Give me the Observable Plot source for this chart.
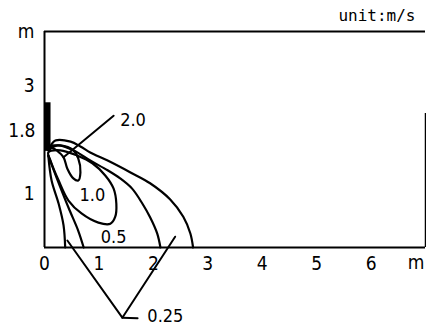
<!DOCTYPE html>
<html>
<head>
<meta charset="utf-8">
<script src="https://cdn.jsdelivr.net/npm/d3@7"></script>
<script src="https://cdn.jsdelivr.net/npm/@observablehq/plot@0.6"></script>
<style>
  html, body { margin: 0; padding: 0; background: #fff; }
  svg { display: block; }
</style>
</head>
<body>
<div id="chart"></div>
<script>
// Axis tick values and labels
const xTickValues = [0, 1, 2, 3, 4, 5, 6];
const xTickLabels = ["0", "1", "2", "3", "4", "5", "6"];
const xUnitValue = [7];
const xUnitLabel = ["m"];
const yTickValues = [1, 3, 4];
const yTickLabels = ["1", "3", "m"];
const yJetValue = [1.8];
const yJetLabel = ["1.8"];
const unitLabel = "unit:m/s";

// Velocity contours (x in m, y in m)
const outer025 = [[0.07,1.80],[0.20,1.98],[0.48,1.96],[0.66,1.87],[0.84,1.76],[1.16,1.61],[1.58,1.39],[1.94,1.19],[2.31,0.89],[2.55,0.57],[2.68,0.26],[2.73,0]];
const outer05 = [[0.07,1.80],[0.24,1.89],[0.53,1.80],[0.84,1.61],[1.16,1.43],[1.39,1.28],[1.61,1.09],[1.80,0.81],[1.94,0.56],[2.07,0.26],[2.13,0]];
const loop10 = [[0.07,1.76],[0.29,1.80],[0.61,1.70],[0.88,1.56],[1.12,1.33],[1.27,1.09],[1.32,0.81],[1.30,0.57],[1.21,0.44],[0.99,0.46],[0.68,0.63],[0.44,0.87],[0.26,1.24],[0.11,1.61]];
const loop20 = [[0.11,1.87],[0.29,1.89],[0.53,1.80],[0.62,1.65],[0.66,1.39],[0.62,1.24],[0.53,1.28],[0.42,1.46],[0.35,1.67],[0.22,1.80]];
const inner025 = [[0.07,1.70],[0.13,1.24],[0.26,0.81],[0.35,0.41],[0.38,0]];
const inner05 = [[0.07,1.70],[0.22,1.30],[0.44,0.74],[0.62,0.31],[0.72,0]];

// Nozzle (jet wall) extent
const nozzle = [{x1: 0, x2: 0.12, y1: 1.78, y2: 2.68}];

// Contour labels and leaders
const contourLabels = [
  {x: 1.39, y: 2.35, text: "2.0", anchor: "start"},
  {x: 0.88, y: 0.96, text: "1.0", anchor: "middle"},
  {x: 1.27, y: 0.19, text: "0.5", anchor: "middle"},
  {x: 1.89, y: -1.28, text: "0.25", anchor: "start"}
];
const leader20 = [[1.27,2.44],[0.35,1.67]];
const leader025 = [[0.42,0.13],[1.43,-1.30],[2.40,0.20]];
const leader025tick = [[1.43,-1.30],[1.71,-1.31]];

const rightWallTop = 2.48;

const font = "'DejaVu Sans Condensed', 'DejaVu Sans', sans-serif";
const lineOpts = (curve) => ({x: d => d[0], y: d => d[1], stroke: "black", strokeWidth: 2.2, curve});

const chart = Plot.plot({
  width: 426,
  height: 327,
  marginLeft: 44,
  marginRight: 1,
  marginTop: 31,
  marginBottom: 80,
  x: {domain: [0, 7], axis: null},
  y: {domain: [0, 4], axis: null},
  style: {fontFamily: font, background: "white", overflow: "visible"},
  marks: [
    // frame
    Plot.ruleY([0], {stroke: "black", strokeWidth: 2}),
    Plot.ruleY([4], {stroke: "black", strokeWidth: 2}),
    Plot.ruleX([0], {stroke: "black", strokeWidth: 2}),
    Plot.ruleX([7], {y1: 0, y2: rightWallTop, stroke: "black", strokeWidth: 1.5}),
    // nozzle
    Plot.rect(nozzle, {x1: "x1", x2: "x2", y1: "y1", y2: "y2", fill: "black"}),
    // contours
    Plot.line(outer025, lineOpts("catmull-rom")),
    Plot.line(outer05, lineOpts("catmull-rom")),
    Plot.line(inner025, lineOpts("catmull-rom")),
    Plot.line(inner05, lineOpts("catmull-rom")),
    Plot.line(loop10, lineOpts("catmull-rom-closed")),
    Plot.line(loop20, lineOpts("catmull-rom-closed")),
    // leaders
    Plot.line(leader20, {x: d => d[0], y: d => d[1], stroke: "black", strokeWidth: 2}),
    Plot.line(leader025, {x: d => d[0], y: d => d[1], stroke: "black", strokeWidth: 2}),
    Plot.line(leader025tick, {x: d => d[0], y: d => d[1], stroke: "black", strokeWidth: 2}),
    // contour labels
    Plot.text(contourLabels.filter(d => d.anchor === "start"), {x: "x", y: "y", text: "text", textAnchor: "start", fontSize: 18, fill: "black"}),
    Plot.text(contourLabels.filter(d => d.anchor === "middle"), {x: "x", y: "y", text: "text", textAnchor: "middle", fontSize: 18, fill: "black"}),
    // x tick labels
    Plot.text(xTickValues, {x: d => d, y: 0, text: (d, i) => xTickLabels[i], dy: 16, fontSize: 19, fill: "black"}),
    Plot.text(xUnitValue, {x: d => d, y: 0, text: (d, i) => xUnitLabel[i], dy: 15, dx: -1, textAnchor: "end", fontSize: 19, fill: "black"}),
    // y tick labels
    Plot.text(yTickValues, {x: 0, y: d => d, text: (d, i) => yTickLabels[i], dx: -10, textAnchor: "end", fontSize: 19, fill: "black"}),
    Plot.text(yJetValue, {x: 0, y: d => d, text: (d, i) => yJetLabel[i], dx: -9, dy: -19, textAnchor: "end", fontSize: 19, fill: "black"}),
    // unit label
    Plot.text([unitLabel], {x: 7, y: 4, text: d => d, dx: -10, dy: -16, textAnchor: "end", fontSize: 16, fontFamily: "'DejaVu Sans Mono', monospace", fill: "black"})
  ]
});
document.getElementById("chart").appendChild(chart);
</script>
</body>
</html>
